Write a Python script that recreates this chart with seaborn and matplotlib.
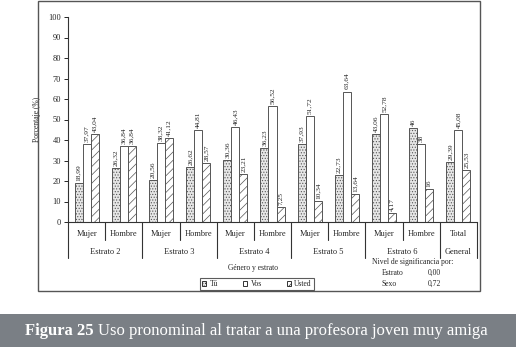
import matplotlib
matplotlib.use("Agg")
import matplotlib.pyplot as plt
from matplotlib.patches import Rectangle, Patch
from matplotlib.transforms import blended_transform_factory
import seaborn as sns
import pandas as pd

# ---- data ----
groups = ["Estrato 2", "Estrato 3", "Estrato 4", "Estrato 5", "Estrato 6", "General"]
sub_labels = ["Mujer", "Hombre", "Mujer", "Hombre", "Mujer", "Hombre",
              "Mujer", "Hombre", "Mujer", "Hombre", "Total"]
pronouns = ["Tú", "Vos", "Usted"]
tu = [18.99, 26.32, 20.56, 26.62, 30.36, 36.23, 37.93, 22.73, 43.06, 46, 29.39]
vos = [37.97, 36.84, 38.32, 44.81, 46.43, 56.52, 51.72, 63.64, 52.78, 38, 45.08]
usted = [43.04, 36.84, 41.12, 28.57, 23.21, 7.25, 10.34, 13.64, 4.17, 16, 25.53]
yticks = [0, 10, 20, 30, 40, 50, 60, 70, 80, 90, 100]
sig_labels = ["Estrato", "Sexo"]
sig_values = ["0,00", "0,72"]

cat_ids = [f"c{i}" for i in range(len(sub_labels))]
rows = []
for name, vals in zip(pronouns, [tu, vos, usted]):
    for cid, v in zip(cat_ids, vals):
        rows.append({"cat": cid, "pron": name, "value": v})
df = pd.DataFrame(rows)

sns.set_style("white")
plt.rcParams["font.family"] = ["Liberation Serif", "DejaVu Serif"]
plt.rcParams["hatch.linewidth"] = 0.5

W, H = 516, 347
fig = plt.figure(figsize=(W / 100, H / 100), dpi=100)

def fx(px):
    return px / W

def fy(py):
    return (H - py) / H

# chart frame
fig.patches.append(Rectangle((fx(38), fy(291)), fx(480) - fx(38), fy(1) - fy(291),
                             transform=fig.transFigure, fill=False,
                             edgecolor="#555555", linewidth=1.0))
# caption bar
fig.patches.append(Rectangle((0, 0), 1, fy(314), transform=fig.transFigure,
                             facecolor="#7a7f85", edgecolor="none"))

ax = fig.add_axes([fx(68), fy(222), fx(477) - fx(68), fy(17) - fy(222)])
fills = ["#e6e6e6", "white", "white"]
sns.barplot(data=df, x="cat", y="value", hue="pron", order=cat_ids,
            hue_order=pronouns, width=0.65, ax=ax,
            palette=fills, edgecolor="#555555",
            linewidth=0.7, legend=False, saturation=1)

hatches = ["......", "", "////"]
for cont, h, vals in zip(ax.containers, hatches, [tu, vos, usted]):
    for bar in cont:
        bar.set_hatch(h)
    labels = [format(v, "g").replace(".", ",") for v in vals]
    ax.bar_label(cont, labels=labels, rotation=90, fontsize=5.3, padding=1.5)

ax.set_xlim(-0.5, len(cat_ids) - 0.5)
ax.set_ylim(0, 100)
ax.set_yticks(yticks)
ax.set_yticklabels([str(t) for t in yticks], fontsize=6)
ax.tick_params(axis="y", direction="out", length=3, width=0.7, pad=2, left=True)
ax.set_xticks([])
ax.set_xlabel("")
ax.set_ylabel("Porcentaje (%)", fontsize=5.5, labelpad=5)
for s in ["top", "right"]:
    ax.spines[s].set_visible(False)
for s in ["left", "bottom"]:
    ax.spines[s].set_color("#333333")
    ax.spines[s].set_linewidth(0.8)

tr = blended_transform_factory(ax.transData, ax.transAxes)
def ay(py):
    return (222 - py) / (222 - 17)

# sub-level separators and labels
for i, lab in enumerate(sub_labels):
    ax.text(i, ay(234), lab, transform=tr, ha="center", va="center", fontsize=6)
group_bounds = [-0.5, 1.5, 3.5, 5.5, 7.5, 9.5, 10.5]
for i in range(len(sub_labels) + 1):
    x = i - 0.5
    y2 = ay(258) if x in group_bounds else ay(240)
    ax.plot([x, x], [0, y2], transform=tr, color="#333333", lw=0.8, clip_on=False)
for g, (a, b) in zip(groups, zip(group_bounds[:-1], group_bounds[1:])):
    ax.text((a + b) / 2, ay(252), g, transform=tr, ha="center", va="center", fontsize=6)

fig.text(fx(253), fy(268), "Género y estrato", ha="center", va="center", fontsize=5.5)

# significance
fig.text(fx(413), fy(262), "Nivel de significancia por:", ha="center", va="center", fontsize=5.5)
for k, (l, v) in enumerate(zip(sig_labels, sig_values)):
    yy = fy(273 + 11 * k)
    fig.text(fx(382), yy, l, ha="left", va="center", fontsize=5.5)
    fig.text(fx(428), yy, v, ha="left", va="center", fontsize=5.5)

# legend
handles = [Patch(facecolor=fc, edgecolor="#333333", hatch=h, linewidth=0.7)
           for fc, h in zip(fills, hatches)]
leg = fig.legend(handles, pronouns, loc="center", bbox_to_anchor=(fx(257), fy(284)),
                 ncol=3, fontsize=5.5, frameon=True, fancybox=False,
                 handlelength=0.55, handleheight=0.55, handletextpad=0.4,
                 columnspacing=3.3, borderpad=0.3, borderaxespad=0)
leg.get_frame().set_edgecolor("#333333")
leg.get_frame().set_linewidth(0.8)

# caption
t1 = fig.text(fx(25), fy(331), "Figura 25", ha="left", va="center", fontsize=12,
              color="white", fontweight="bold")
fig.canvas.draw()
bb = t1.get_window_extent()
fig.text(bb.x1 / W + fx(4), fy(331), "Uso pronominal al tratar a una profesora joven muy amiga",
         ha="left", va="center", fontsize=12, color="white")

fig.savefig("out.png", dpi=100)
